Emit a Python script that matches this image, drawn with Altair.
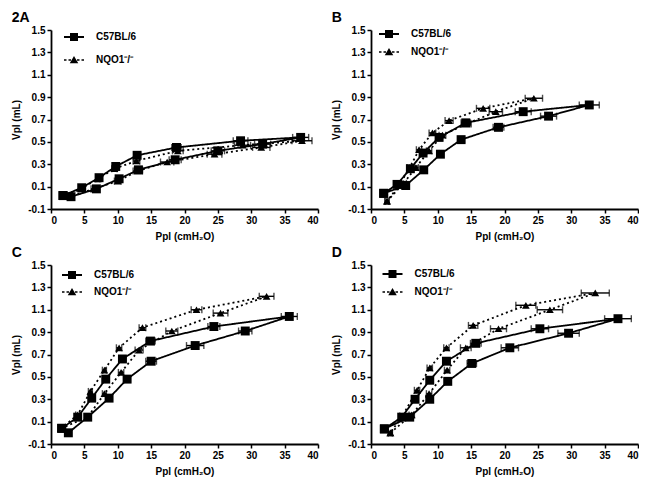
import altair as alt
import pandas as pd

SERIES = ["C57BL/6", "NQO1⁻/⁻"]
PANELS = ["2A", "B", "C", "D"]
X_TICKS = [0, 5, 10, 15, 20, 25, 30, 35, 40]
Y_TICKS = [-0.1, 0.1, 0.3, 0.5, 0.7, 0.9, 1.1, 1.3, 1.5]

# Panel 2A  (points in loop order: inflation limb up, deflation limb back)
A_C57_X = [1.8, 3.0, 6.8, 10.2, 13.1, 18.6, 25.0, 31.7, 37.4, 28.4, 18.8, 12.9, 9.7, 7.2, 4.6, 1.8]
A_C57_Y = [0.02, 0.01, 0.08, 0.17, 0.25, 0.34, 0.42, 0.48, 0.54, 0.51, 0.45, 0.38, 0.28, 0.18, 0.09, 0.02]
A_C57_E = [0.3, 0.3, 0.4, 0.5, 0.6, 0.9, 1.0, 1.2, 1.2, 1.1, 0.7, 0.5, 0.4, 0.3, 0.3, 0.3]
A_NQO_X = [1.8, 2.8, 6.4, 10.0, 13.0, 17.4, 24.5, 31.5, 37.6, 28.7, 19.0, 12.8, 9.5, 7.0, 4.5, 1.8]
A_NQO_Y = [0.02, 0.01, 0.08, 0.15, 0.24, 0.32, 0.39, 0.45, 0.51, 0.47, 0.42, 0.33, 0.26, 0.17, 0.08, 0.02]
A_NQO_E = [0.3, 0.3, 0.4, 0.5, 0.7, 1.0, 1.1, 1.3, 1.5, 1.2, 0.8, 0.5, 0.4, 0.3, 0.3, 0.3]

# Panel B
B_C57_X = [1.9, 5.2, 7.9, 10.4, 13.5, 19.1, 26.6, 32.7, 22.8, 14.2, 10.2, 7.8, 5.9, 3.9, 1.9]
B_C57_Y = [0.04, 0.11, 0.25, 0.39, 0.52, 0.63, 0.73, 0.83, 0.77, 0.67, 0.54, 0.40, 0.26, 0.12, 0.04]
B_C57_E = [0.3, 0.4, 0.4, 0.4, 0.5, 0.8, 1.2, 1.5, 1.2, 0.7, 0.5, 0.4, 0.4, 0.4, 0.3]
B_NQO_X = [2.4, 4.9, 6.7, 8.7, 10.7, 14.3, 18.7, 24.4, 16.8, 11.7, 9.2, 7.2, 5.8, 4.2, 2.4]
B_NQO_Y = [-0.03, 0.13, 0.27, 0.42, 0.56, 0.66, 0.77, 0.89, 0.80, 0.69, 0.58, 0.43, 0.27, 0.11, -0.03]
B_NQO_E = [0.3, 0.4, 0.4, 0.4, 0.5, 0.7, 1.0, 1.3, 1.0, 0.6, 0.5, 0.4, 0.4, 0.4, 0.3]

# Panel C
C_C57_X = [1.6, 2.6, 5.5, 8.7, 11.4, 15.0, 21.6, 29.1, 35.7, 24.4, 14.9, 10.7, 8.2, 6.1, 4.0, 1.6]
C_C57_Y = [0.04, 0.0, 0.14, 0.31, 0.48, 0.64, 0.78, 0.91, 1.04, 0.95, 0.82, 0.66, 0.48, 0.31, 0.14, 0.04]
C_C57_E = [0.3, 0.3, 0.4, 0.4, 0.5, 0.8, 1.3, 1.0, 1.2, 0.9, 0.7, 0.5, 0.4, 0.3, 0.3, 0.3]
C_NQO_X = [1.5, 5.5, 8.0, 10.5, 13.2, 18.1, 25.4, 32.3, 21.8, 13.7, 10.2, 8.0, 5.9, 4.0, 1.5]
C_NQO_Y = [0.04, 0.14, 0.35, 0.54, 0.74, 0.91, 1.07, 1.22, 1.10, 0.94, 0.76, 0.56, 0.37, 0.16, 0.04]
C_NQO_E = [0.3, 0.3, 0.3, 0.4, 0.6, 0.9, 1.1, 1.1, 0.8, 0.5, 0.4, 0.3, 0.3, 0.3, 0.3]

# Panel D
D_C57_X = [2.0, 5.8, 8.8, 11.5, 15.1, 20.8, 29.6, 37.0, 25.3, 15.7, 11.3, 8.8, 6.6, 4.6, 2.0]
D_C57_Y = [0.035, 0.14, 0.30, 0.46, 0.62, 0.76, 0.89, 1.02, 0.93, 0.80, 0.64, 0.47, 0.30, 0.14, 0.035]
D_C57_E = [0.3, 0.4, 0.4, 0.5, 0.7, 1.3, 1.6, 2.0, 1.3, 0.8, 0.5, 0.4, 0.4, 0.4, 0.3]
D_NQO_X = [2.9, 6.1, 8.7, 11.4, 14.2, 19.1, 26.8, 33.6, 23.2, 15.3, 11.3, 8.8, 6.9, 4.7, 2.9]
D_NQO_Y = [0.0, 0.16, 0.35, 0.56, 0.76, 0.93, 1.10, 1.25, 1.14, 0.96, 0.76, 0.58, 0.38, 0.15, 0.0]
D_NQO_E = [0.3, 0.4, 0.4, 0.4, 0.8, 1.2, 1.9, 2.1, 1.5, 0.7, 0.4, 0.4, 0.4, 0.4, 0.3]

PANEL_DATA = {
    "2A": [(A_C57_X, A_C57_Y, A_C57_E), (A_NQO_X, A_NQO_Y, A_NQO_E)],
    "B": [(B_C57_X, B_C57_Y, B_C57_E), (B_NQO_X, B_NQO_Y, B_NQO_E)],
    "C": [(C_C57_X, C_C57_Y, C_C57_E), (C_NQO_X, C_NQO_Y, C_NQO_E)],
    "D": [(D_C57_X, D_C57_Y, D_C57_E), (D_NQO_X, D_NQO_Y, D_NQO_E)],
}

FONT = "Liberation Sans"
# legend glyphs (filled outlines): solid line + square / dashed line + triangle
GLYPH_C57 = "M-2,-0.18H2V0.18H-2Z M-0.8,-0.8H0.8V0.8H-0.8Z"
GLYPH_NQO = ("M-2,-0.15H-1.5V0.15H-2Z M-1.1,-0.15H-0.6V0.15H-1.1Z "
             "M0.6,-0.15H1.1V0.15H0.6Z M1.5,-0.15H2V0.15H1.5Z "
             "M0,-0.8L0.85,0.65H-0.85Z")
LEGEND_GLYPHS = [GLYPH_C57, GLYPH_NQO]


def make_df(panel):
    rows = []
    for s, (xs, ys, es) in zip(SERIES, PANEL_DATA[panel]):
        for i, (x, y, e) in enumerate(zip(xs, ys, es)):
            rows.append({"series": s, "order": i, "x": x, "y": y,
                         "lo": x - e, "hi": x + e})
    return pd.DataFrame(rows)


def panel_chart(panel, legend_x, legend_y, row_pad):
    df = make_df(panel)
    base = alt.Chart(df)
    xscale = alt.Scale(domain=[0, 40], nice=False, zero=False)
    yscale = alt.Scale(domain=[-0.1, 1.5], nice=False, zero=False)
    xaxis = alt.Axis(values=X_TICKS, title="Ppl (cmH₂O)", titlePadding=6)
    yaxis = alt.Axis(values=Y_TICKS, title="Vpl (mL)", titlePadding=6,
                     labelExpr="datum.value < 0 ? '-' + format(-datum.value, '.1f') : format(datum.value, '.1f')")
    xenc = alt.X("x:Q", scale=xscale, axis=xaxis)
    yenc = alt.Y("y:Q", scale=yscale, axis=yaxis)

    err = base.mark_errorbar(ticks=True, size=7, thickness=1.4, color="black",
                             orient="horizontal").encode(
        x=alt.X("lo:Q", scale=xscale, axis=xaxis),
        x2="hi:Q",
        y=yenc,
        detail="order:Q",
    )
    line = base.mark_line(color="black", strokeWidth=1.8).encode(
        x=xenc,
        y=yenc,
        order="order:Q",
        detail="series:N",
        strokeDash=alt.StrokeDash("series:N",
                                  scale=alt.Scale(domain=SERIES, range=[[1, 0], [2, 3]]),
                                  legend=None),
    )
    sq = base.transform_filter(alt.datum.series == SERIES[0]).mark_point(
        shape="square", filled=True, color="black", opacity=1, size=80
    ).encode(x=xenc, y=yenc)
    tri = base.transform_filter(alt.datum.series == SERIES[1]).mark_point(
        shape="triangle-up", filled=True, color="black", opacity=1, size=60
    ).encode(x=xenc, y=yenc)
    leg = alt.Legend(
        orient="none", legendX=legend_x, legendY=legend_y,
        title=None, padding=0, symbolSize=100, labelOffset=17,
        rowPadding=row_pad, labelFont=FONT, labelFontSize=10,
        labelFontWeight="bold", labelColor="black",
        symbolStrokeWidth=0, symbolFillColor="black", symbolOpacity=1,
    )
    key = base.transform_filter("false").mark_point(
        filled=True, color="black", opacity=1, strokeWidth=0
    ).encode(
        x=xenc,
        y=yenc,
        shape=alt.Shape("series:N", scale=alt.Scale(domain=SERIES, range=LEGEND_GLYPHS), legend=leg),
    )
    return alt.layer(err, line, sq, tri, key).properties(
        width=267, height=179,
        title=alt.TitleParams(text=panel, anchor="start", fontSize=14,
                              fontWeight="bold", font=FONT, color="black",
                              offset=0),
    )


pA = panel_chart("2A", 18, 2, 13)
pB = panel_chart("B", 13, -1, 8)
pC = panel_chart("C", 16, 5, 7)
pD = panel_chart("D", 16.5, 4, 8)

row1 = alt.hconcat(pA, pB, spacing=12).resolve_scale(shape="independent")
row2 = alt.hconcat(pC, pD, spacing=12).resolve_scale(shape="independent")

chart = alt.vconcat(row1, row2, spacing=5).resolve_scale(
    shape="independent"
).properties(
    padding={"left": 3, "top": 3, "right": 0, "bottom": 2}
).configure_view(stroke=None).configure_axis(
    grid=False, domainColor="black", domainWidth=1.8, tickColor="black",
    tickWidth=1.5, tickSize=4, labelFont=FONT, labelFontSize=10,
    labelFontWeight="bold", labelColor="black", labelPadding=2,
    titleFont=FONT, titleFontSize=10, titleFontWeight="bold", titleColor="black",
)

chart.save("out.html", embed_options={"renderer": "svg", "actions": False})
